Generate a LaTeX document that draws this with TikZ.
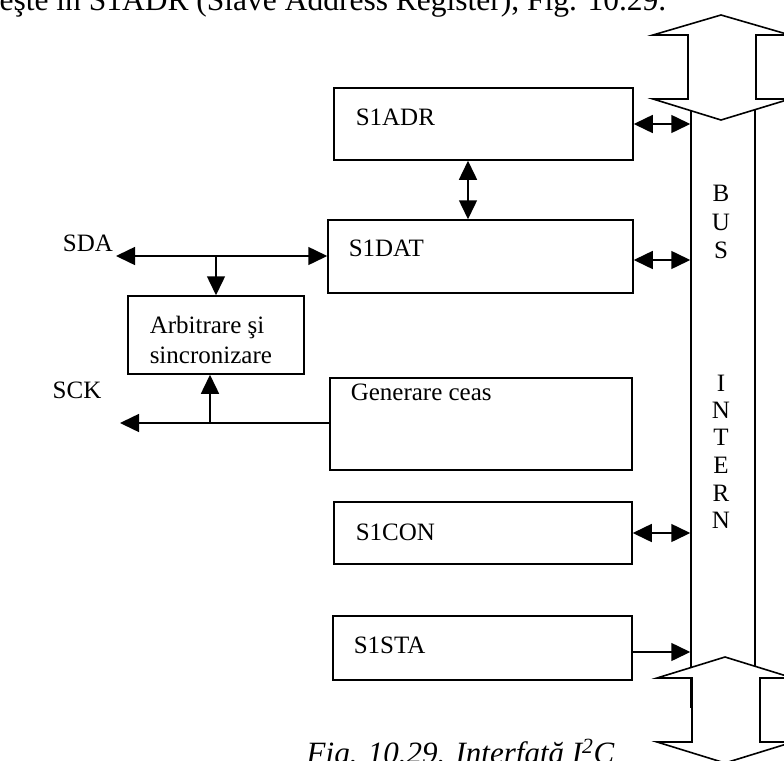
\documentclass[tikz,border=0pt]{standalone}
\usepackage{fontspec}
\setmainfont{Liberation Serif}
\usetikzlibrary{arrows.meta}
\begin{document}
\begin{tikzpicture}[x=1pt,y=-1pt,
  line width=1.5pt,
  tri/.tip={Triangle[length=19pt,width=18pt]},
  onedir/.style={-tri},
  twodir/.style={tri-tri},
  box/.style={draw, rectangle, inner sep=0pt, line width=1.5pt},
  lbl/.style={inner sep=0pt, anchor=west, font=\fontsize{25}{29}\selectfont},
  busletter/.style={inner sep=0pt, font=\fontsize{25}{29}\selectfont},
  bigarrow/.style={draw, fill=white, line width=1.6pt, line join=miter}
]
\useasboundingbox (0,0) rectangle (784,760);
\clip (0,0) rectangle (784,760);

% running text above the figure
\node[inner sep=0pt, anchor=base east, font=\fontsize{31.5}{36}\selectfont] (body) at (667,11)
  {eşte în S1ADR (Slave Address Register), Fig. 10.29.};

% internal bus
\node[draw, line width=1.5pt, minimum width=64pt, minimum height=600pt, inner sep=0pt] (bus) at (723,407) {};
\draw[bigarrow] (721,15) -- (653,35) -- (688,35) -- (688,99) -- (653,99) -- (721,120)
  -- (790,99) -- (756,99) -- (756,35) -- (790,35) -- cycle;
\draw[bigarrow] (725,657) -- (657,678) -- (692,678) -- (692,742) -- (657,742) -- (725,763)
  -- (793,742) -- (760,742) -- (760,678) -- (793,678) -- cycle;
\foreach \ch/\yy [count=\i] in {B/193,U/222,S/250,I/383,N/410,T/437,E/465,R/493,N/520}
  \node[busletter] (busch\i) at (721,\yy) {\ch};

% registers
\node[box, minimum width=299pt, minimum height=72pt] (adr) at (483.5,124) {};
\node[lbl] (adrt) at (355,117) {S1ADR};
\node[box, minimum width=305pt, minimum height=73pt] (dat) at (480.5,256.5) {};
\node[lbl] (datt) at (348,248) {S1DAT};
\node[box, minimum width=302pt, minimum height=92pt] (gen) at (481,424) {};
\node[lbl] (gent) at (350,392) {Generare ceas};
\node[box, minimum width=298pt, minimum height=62pt] (con) at (483,533) {};
\node[lbl] (cont) at (355,532) {S1CON};
\node[box, minimum width=299pt, minimum height=64pt] (sta) at (482.5,648) {};
\node[lbl] (stat) at (353,645) {S1STA};
\node[box, minimum width=176pt, minimum height=78pt] (arb) at (216,335) {};
\node[lbl, align=left, font=\fontsize{25}{30}\selectfont] (arbt) at (149,340)
  {Arbitrare şi\\sincronizare};

% pin labels
\node[inner sep=0pt, font=\fontsize{25}{29}\selectfont] (sda) at (88,243) {SDA};
\node[inner sep=0pt, font=\fontsize{25}{29}\selectfont] (sck) at (77,390) {SCK};

% register to bus connections
\draw[twodir] (adr.east) -- (adr.east -| bus.west);
\draw[twodir] (adr.south -| 468,0) -- (dat.north -| 468,0);
\draw[twodir] (dat.east |- 0,260) -- (bus.west |- 0,260);
\draw[twodir] (con.east) -- (con.east -| bus.west);
\draw[onedir] (sta.east |- 0,652) -- (bus.west |- 0,652);

% serial lines
\coordinate (sdaend) at (116,256);
\coordinate (sckend) at (120,423);
\draw[twodir] (sdaend) -- (dat.west |- sdaend);
\draw[onedir] (arb.north |- sdaend) -- (arb.north);
\draw[onedir] (gen.west |- sckend) -- (sckend);
\draw[onedir] (210,423) -- (arb.south -| 210,0);

% caption
\node[inner sep=0pt, anchor=base east, font=\itshape\fontsize{31}{35}\selectfont] (cap) at (615,763)
  {Fig. 10.29. Interfaţă I\textsuperscript{2}C};
\end{tikzpicture}
\end{document}
